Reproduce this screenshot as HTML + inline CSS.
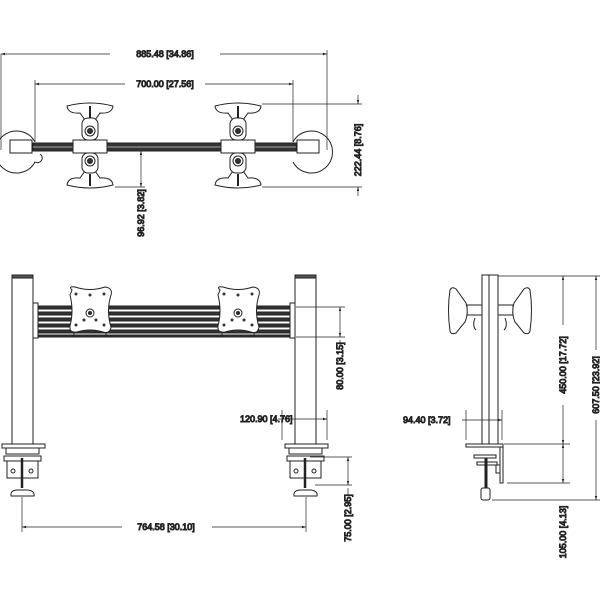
<!DOCTYPE html>
<html><head><style>body{margin:0;background:#fff}svg{display:block}text{font-family:"Liberation Sans",sans-serif;font-size:9px;fill:#444}</style></head>
<body>
<svg width="600" height="600" viewBox="0 0 600 600" xmlns="http://www.w3.org/2000/svg" stroke="#222" fill="none" stroke-width="1">
<defs>
<marker id="a" viewBox="0 0 10 10" refX="10" refY="5" markerWidth="6" markerHeight="6" orient="auto-start-reverse"><path d="M0,2 L10,5 L0,8z" fill="#222" stroke="none"/></marker>
</defs>
<!-- TOP VIEW -->
<g stroke-width="0.7">
<line x1="1" y1="54" x2="327" y2="54" marker-start="url(#a)" marker-end="url(#a)"/>
<line x1="1" y1="54" x2="1" y2="150"/><line x1="327" y1="50" x2="327" y2="150"/>
<line x1="35" y1="84" x2="293" y2="84" marker-start="url(#a)" marker-end="url(#a)"/>
<line x1="35" y1="80" x2="35" y2="142"/><line x1="293" y1="80" x2="293" y2="142"/>
<line x1="262" y1="104" x2="362" y2="104"/><line x1="262" y1="187" x2="362" y2="187"/>
<line x1="358" y1="95" x2="358" y2="104" marker-end="url(#a)"/><line x1="358" y1="196" x2="358" y2="187" marker-end="url(#a)"/>
<line x1="115" y1="187" x2="145" y2="187"/>
<line x1="141" y1="151" x2="141" y2="187" marker-start="url(#a)" marker-end="url(#a)"/>
<line x1="141" y1="190" x2="141" y2="196"/>
</g>
<rect x="110" y="47" width="110" height="14" fill="#fff" stroke="none"/>
<text x="165" y="57" text-anchor="middle">885.48 [34.86]</text>
<rect x="125" y="78" width="80" height="13" fill="#fff" stroke="none"/>
<text x="165" y="87" text-anchor="middle">700.00 [27.56]</text>
<text transform="translate(361,150) rotate(-90)" text-anchor="middle">222.44 [8.76]</text>
<text transform="translate(144,213) rotate(-90)" text-anchor="middle">96.92 [3.82]</text>
<g stroke-width="1">
<path d="M35,142 A21,21 0 1 0 35,162 A4 4 0 0 0 40,154"/>
<path d="M293,142 A21,21 0 1 1 293,162"/>
<rect x="10" y="140" width="22" height="13"/><rect x="297" y="140" width="22" height="13"/>
<rect x="33" y="143" width="263" height="8" fill="#333"/>
<line x1="33" y1="147" x2="296" y2="147" stroke="#aaa"/>
<rect x="73" y="140" width="34" height="13" fill="#fff"/><rect x="221" y="140" width="34" height="13" fill="#fff"/>
<g id="hd">
<path d="M67,106 Q90,100 113,106 Q112,114 100,113 L95,120 L85,120 L80,113 Q68,114 67,106z" fill="#fff"/>
<rect x="82" y="118" width="16" height="22" rx="6" fill="#fff"/>
<circle cx="90" cy="131" r="5"/><circle cx="90" cy="131" r="2.5" fill="#333"/>
<line x1="90" y1="106" x2="90" y2="118" stroke-width="2"/>
<path d="M67,185 Q90,191 113,185 Q112,177 100,178 L95,171 L85,171 L80,178 Q68,177 67,185z" fill="#fff"/>
<rect x="82" y="153" width="16" height="20" rx="6" fill="#fff"/>
<circle cx="90" cy="161" r="5"/><circle cx="90" cy="161" r="2.5" fill="#333"/>
<line x1="90" y1="174" x2="90" y2="186" stroke-width="2"/>
</g>
<use href="#hd" x="148"/>
</g>
<!-- FRONT VIEW -->
<g stroke-width="1">
<rect x="12" y="275" width="21" height="170" fill="#fff"/><rect x="12" y="275" width="21" height="3" fill="#555"/>
<rect x="295" y="275" width="21" height="170" fill="#fff"/><rect x="295" y="275" width="21" height="3" fill="#555"/>
<rect x="33" y="303" width="5" height="35"/><rect x="290" y="303" width="5" height="35"/>
<g fill="#333"><rect x="38" y="306" width="252" height="3"/><rect x="38" y="312" width="252" height="3"/><rect x="38" y="318" width="252" height="3"/><rect x="38" y="324" width="252" height="3"/><rect x="38" y="330" width="252" height="3"/><rect x="38" y="335" width="252" height="2"/></g>
<g id="vp">
<path d="M72,290 Q68,286 75,287 Q90,292 105,287 Q113,288 111,295 Q106,311 111,327 Q110,334 103,332 Q90,328 77,332 Q69,333 70,326 Q74,311 70,295z" fill="#fff"/>
<circle cx="90" cy="313" r="4"/><circle cx="90" cy="313" r="1.5" fill="#333"/>
<g fill="#333" stroke="none"><circle cx="76" cy="294" r="1.5"/><circle cx="104" cy="294" r="1.5"/><circle cx="76" cy="325" r="1.5"/><circle cx="104" cy="325" r="1.5"/><circle cx="90" cy="295" r="1.5"/><circle cx="84" cy="320" r="1.5"/><circle cx="96" cy="320" r="1.5"/></g>
<rect x="74" y="333" width="32" height="4"/>
</g>
<use href="#vp" x="148"/>
<g id="cl">
<rect x="2" y="444" width="43" height="4" fill="#fff"/>
<rect x="6" y="448" width="33" height="6"/>
<rect x="4" y="456" width="37" height="5"/>
<rect x="7" y="461" width="31" height="17"/>
<line x1="22" y1="458" x2="22" y2="488" stroke-width="2.5"/>
<circle cx="13" cy="471" r="2"/><circle cx="31" cy="471" r="2"/>
<path d="M11,496 Q10,490 18,490 L28,490 Q35,491 34,496z" fill="#fff"/>
</g>
<use href="#cl" x="283"/>
</g>
<g stroke-width="0.7">
<line x1="296" y1="307" x2="345" y2="307"/><line x1="296" y1="337" x2="345" y2="337"/>
<line x1="340" y1="307" x2="340" y2="337" marker-start="url(#a)" marker-end="url(#a)"/>
<line x1="340" y1="340" x2="340" y2="345"/>
<line x1="282" y1="410" x2="282" y2="440"/><line x1="327" y1="410" x2="327" y2="440"/>
<line x1="278" y1="419" x2="327" y2="419" marker-end="url(#a)"/>
<line x1="310" y1="457" x2="352" y2="457"/><line x1="315" y1="485" x2="352" y2="485"/>
<line x1="348" y1="457" x2="348" y2="485" marker-start="url(#a)" marker-end="url(#a)"/>
<line x1="348" y1="488" x2="348" y2="495"/>
<line x1="22" y1="497" x2="22" y2="532"/><line x1="306" y1="497" x2="306" y2="532"/>
<line x1="22" y1="527" x2="306" y2="527" marker-start="url(#a)" marker-end="url(#a)"/>
</g>
<text transform="translate(343,366) rotate(-90)" text-anchor="middle">80.00 [3.15]</text>
<text x="240" y="422">120.90 [4.76]</text>
<text transform="translate(351,518) rotate(-90)" text-anchor="middle">75.00 [2.95]</text>
<rect x="122" y="520" width="90" height="14" fill="#fff" stroke="none"/>
<text x="166" y="530" text-anchor="middle">764.58 [30.10]</text>
<!-- SIDE VIEW -->
<g stroke-width="1">
<rect x="482" y="275" width="16" height="170" fill="#fff"/><line x1="489" y1="275" x2="489" y2="445"/>
<rect x="467" y="305" width="15" height="10" fill="#fff"/><rect x="498" y="305" width="15" height="10" fill="#fff"/>
<path d="M450,290 Q452,286 456,289 L466,303 Q469,313 465,322 L456,333 Q451,335 450,331 Q447,310 450,290z" fill="#fff"/>
<path d="M530,290 Q528,286 524,289 L514,303 Q511,313 515,322 L524,333 Q529,335 530,331 Q533,310 530,290z" fill="#fff"/>
<path d="M475,318 Q472,326 476,330 M505,318 Q508,326 504,330"/>
<rect x="466" y="444" width="37" height="3" fill="#fff"/>
<path d="M500,447 L503,447 L503,483 L500,483z" fill="#fff"/>
<rect x="496" y="465" width="4" height="8"/>
<rect x="474" y="455" width="22" height="3" fill="#fff"/>
<rect x="477" y="462" width="20" height="3" fill="#fff"/>
<line x1="486" y1="458" x2="486" y2="490" stroke-width="3"/>
<rect x="481" y="488" width="9" height="12" rx="2" fill="#fff"/>
</g>
<g stroke-width="0.7">
<line x1="498" y1="276" x2="600" y2="276"/>
<line x1="504" y1="444" x2="570" y2="444"/><line x1="507" y1="483" x2="570" y2="483"/><line x1="492" y1="500" x2="600" y2="500"/>
<line x1="563" y1="276" x2="563" y2="444" marker-start="url(#a)" marker-end="url(#a)"/>
<line x1="563" y1="444" x2="563" y2="483" marker-start="url(#a)" marker-end="url(#a)"/>
<line x1="596" y1="276" x2="596" y2="500" marker-start="url(#a)" marker-end="url(#a)"/>
<line x1="466" y1="410" x2="466" y2="440"/><line x1="502" y1="410" x2="502" y2="440"/>
<line x1="462" y1="420" x2="502" y2="420" marker-end="url(#a)"/>
</g>
<rect x="558" y="325" width="11" height="80" fill="#fff" stroke="none"/>
<text transform="translate(566,365) rotate(-90)" text-anchor="middle">450.00 [17.72]</text>
<rect x="590" y="350" width="10" height="70" fill="#fff" stroke="none"/>
<text transform="translate(599,385) rotate(-90)" text-anchor="middle">607.50 [23.92]</text>
<text transform="translate(566,532) rotate(-90)" text-anchor="middle">105.00 [4.13]</text>
<text x="403" y="423">94.40 [3.72]</text>
</svg>
</body></html>
